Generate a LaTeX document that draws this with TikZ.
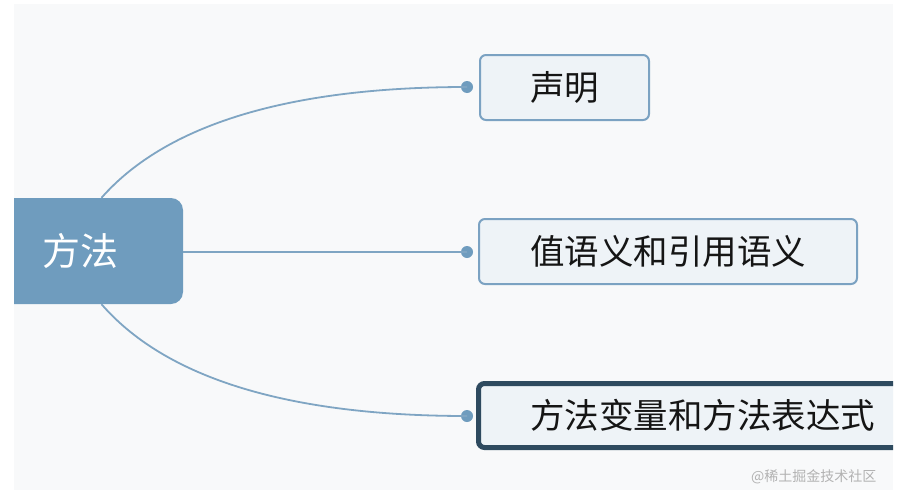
\documentclass[tikz,border=0pt]{standalone}
\usepackage{fontspec}
\setmainfont{Noto Sans CJK SC}
\usepackage{xcolor}
\usepackage{tikz}
\usetikzlibrary{
	positioning
}

\definecolor{bgcol}{HTML}{F8F9FA}
\definecolor{rootcol}{HTML}{6F9CBE}
\definecolor{linecol}{HTML}{7FA5C3}
\definecolor{boxfill}{HTML}{EEF3F7}
\definecolor{boxline}{HTML}{7BA2C2}
\definecolor{selline}{HTML}{2E4A5F}
\definecolor{txtcol}{HTML}{151515}

\tikzset{
	root/.style={fill=rootcol, rounded corners=12pt, text=white,
		minimum width=205, minimum height=106, inner sep=0pt,
		font=\fontsize{38}{44}\selectfont},
	topic/.style={fill=boxfill, draw=boxline, line width=2pt, rounded corners=6pt,
		text=txtcol, minimum height=65, inner sep=0pt,
		font=\fontsize{34.5}{40}\selectfont},
	seltopic/.style={topic, draw=selline, line width=5pt, minimum height=64},
	dot/.style={circle, fill=rootcol, inner sep=0pt, minimum size=12},
	branch/.style={draw=linecol, line width=1.8pt}
}

\begin{document}
\begin{tikzpicture}[x=1pt,y=-1pt]
	\useasboundingbox (0,0) rectangle (903,490);
	\fill[white] (0,0) rectangle (903,490);
	\begin{scope}
	\clip (14,4) rectangle (893,490);
	\fill[bgcol] (14,4) rectangle (893,490);
	
	% 中心主题
	\node[root] (root) at (80.5,251) {方法};
	
	% 分支主题
	\node[topic, minimum width=169] (decl) at (564.5,87.5) {声明};
	\node[topic, minimum width=378] (value) at (668,251.5) {值语义和引用语义};
	\node[seltopic, minimum width=448] (expr) at (702.5,415.5) {方法变量和方法表达式};
	
	% 连接点
	\foreach \n/\y in {d1/87,d2/252,d3/416}
	\node[dot] (\n) at (467,\y) {};
	
	% 连线
	\draw[branch] ([xshift=21pt]root.north) .. controls (170,120) and (300,87) .. (d1.center);
	\draw[branch] (root.east |- d2) -- (d2.center);
	\draw[branch] ([xshift=21pt]root.south) .. controls (170,383) and (300,416) .. (d3.center);
	
	% 水印
	\node[text=black!30, font=\fontsize{14}{16}\selectfont, anchor=east] (mark) at (880,477) {@稀土掘金技术社区};
	\end{scope}
\end{tikzpicture}
\end{document}
